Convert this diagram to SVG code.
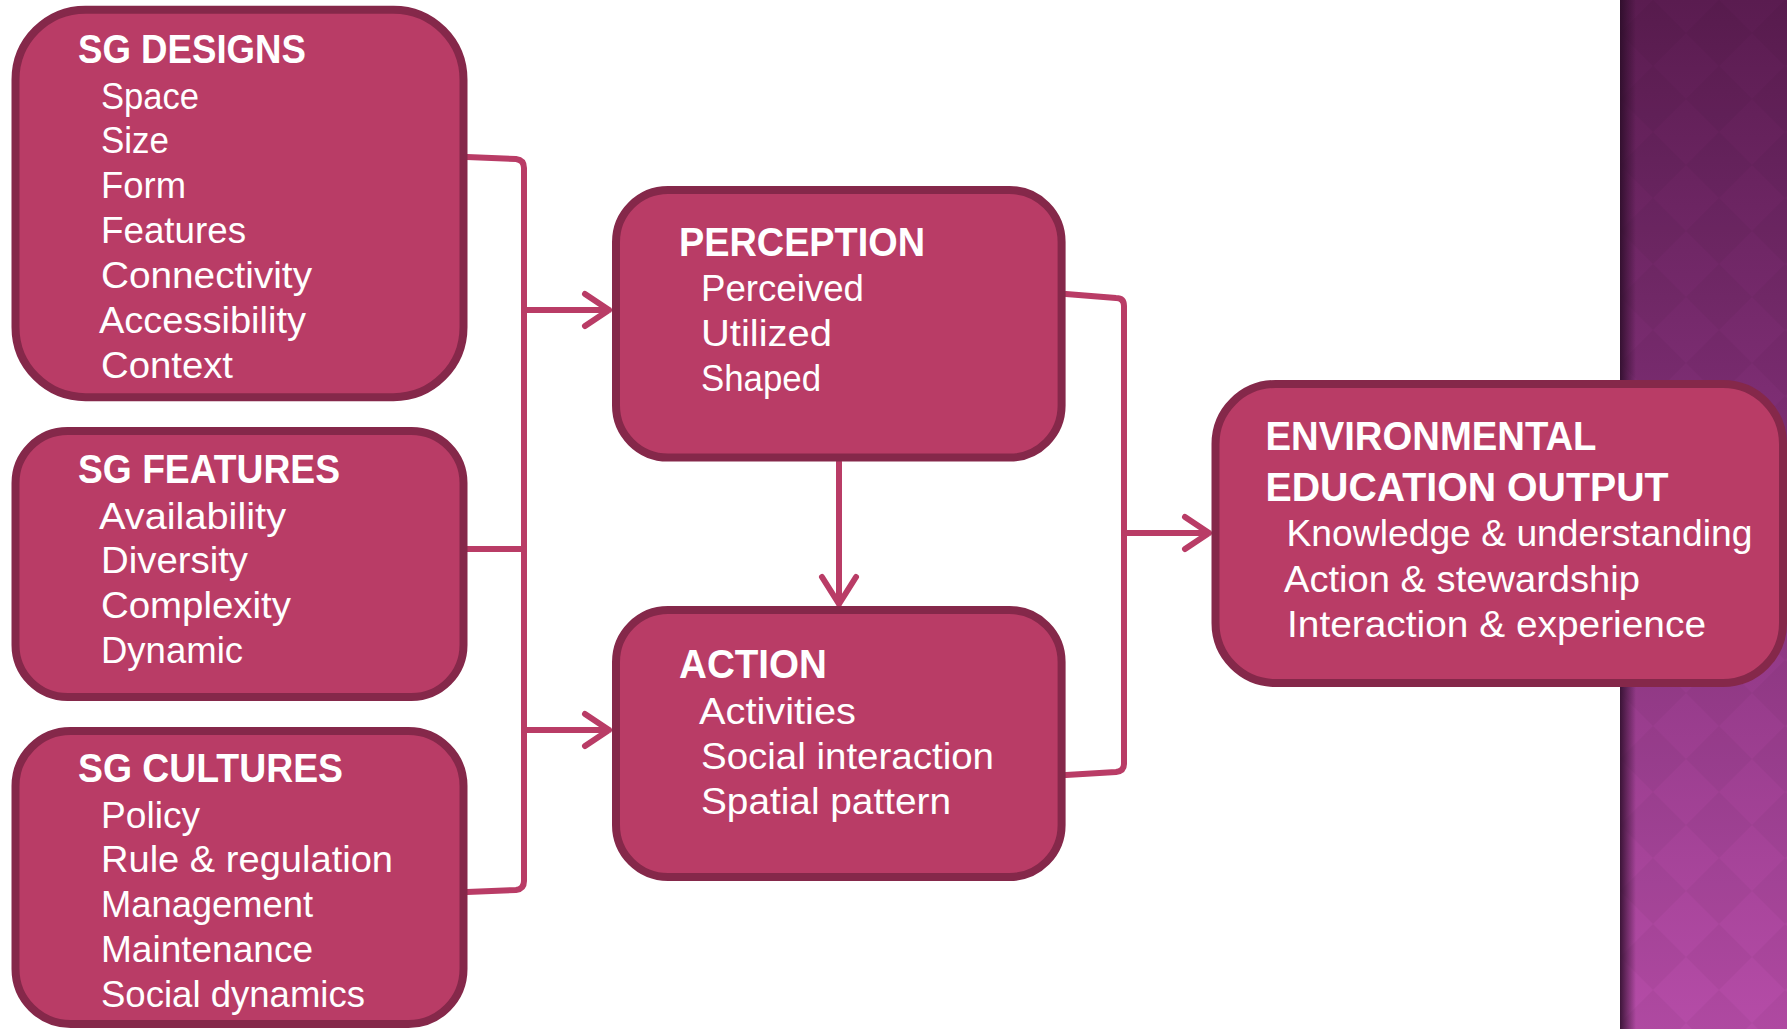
<svg xmlns="http://www.w3.org/2000/svg" width="1787" height="1029" viewBox="0 0 1787 1029">
<style>
.box{fill:#b93c66;stroke:#85284a;stroke-width:8}
.t{font-family:"Liberation Sans",Arial,sans-serif;font-size:37px;fill:#ffffff}
.h{font-family:"Liberation Sans",Arial,sans-serif;font-size:40.5px;font-weight:bold;fill:#ffffff}
.c{fill:none;stroke:#b93c66;stroke-width:6;stroke-linecap:round;stroke-linejoin:round}
</style>
<defs>
<linearGradient id="panel" x1="0" y1="0" x2="0" y2="1">
<stop offset="0" stop-color="#5a1c50"/>
<stop offset="0.4" stop-color="#7e2e74"/>
<stop offset="1" stop-color="#b54ca7"/>
</linearGradient>
<linearGradient id="shade" x1="0" y1="0" x2="1" y2="0">
<stop offset="0" stop-color="#2a0c27" stop-opacity="0.85"/>
<stop offset="1" stop-color="#2a0c27" stop-opacity="0"/>
</linearGradient>
<pattern id="dia" x="1620" y="0" width="66" height="66" patternUnits="userSpaceOnUse">
<polygon points="33,0 66,33 33,66 0,33" fill="#000000" fill-opacity="0.035"/>
</pattern>
</defs>
<rect x="0" y="0" width="1787" height="1029" fill="#ffffff"/>
<g id="background-panel">
<rect x="1620" y="0" width="167" height="1029" fill="url(#panel)"/>
<rect x="1620" y="0" width="167" height="1029" fill="url(#dia)"/>
<rect x="1620" y="0" width="16" height="1029" fill="url(#shade)"/>
</g>
<g id="connectors">
<path class="c" d="M467 157 L516 159 Q524 160 524 168 L524 881 Q524 889 516 890 L467 892"/>
<path class="c" d="M467 549 L524 549"/>
<path class="c" d="M524 310 L609 310 M585 294 L609 310 L585 326"/>
<path class="c" d="M524 730 L609 730 M585 714 L609 730 L585 746"/>
<path class="c" d="M839 462 L839 604 M822 577 L839 604 L856 577"/>
<path class="c" d="M1066 294 L1116 298 Q1124 298 1124 306 L1124 764 Q1124 771 1116 772 L1066 775"/>
<path class="c" d="M1124 533 L1209 533 M1185 517 L1209 533 L1185 549"/>
</g>
<g id="sg-designs">
<rect class="box" x="15.5" y="9.7" width="448" height="387.5" rx="70"/>
<text class="h" x="78" y="63" textLength="228" lengthAdjust="spacingAndGlyphs">SG DESIGNS</text>
<text class="t" x="101" y="108.5" textLength="98" lengthAdjust="spacingAndGlyphs">Space</text>
<text class="t" x="101" y="153.4" textLength="68" lengthAdjust="spacingAndGlyphs">Size</text>
<text class="t" x="101" y="198.3" textLength="85" lengthAdjust="spacingAndGlyphs">Form</text>
<text class="t" x="101" y="243.2" textLength="145" lengthAdjust="spacingAndGlyphs">Features</text>
<text class="t" x="101" y="288.1" textLength="211" lengthAdjust="spacingAndGlyphs">Connectivity</text>
<text class="t" x="99" y="333" textLength="207" lengthAdjust="spacingAndGlyphs">Accessibility</text>
<text class="t" x="101" y="377.9" textLength="132" lengthAdjust="spacingAndGlyphs">Context</text>
</g>
<g id="sg-features">
<rect class="box" x="15.5" y="431" width="448" height="266" rx="52"/>
<text class="h" x="78" y="483" textLength="262" lengthAdjust="spacingAndGlyphs">SG FEATURES</text>
<text class="t" x="99" y="528.5" textLength="187" lengthAdjust="spacingAndGlyphs">Availability</text>
<text class="t" x="101" y="573.3" textLength="147" lengthAdjust="spacingAndGlyphs">Diversity</text>
<text class="t" x="101" y="618" textLength="190" lengthAdjust="spacingAndGlyphs">Complexity</text>
<text class="t" x="101" y="662.5" textLength="142" lengthAdjust="spacingAndGlyphs">Dynamic</text>
</g>
<g id="sg-cultures">
<rect class="box" x="15.5" y="731" width="448" height="293" rx="55"/>
<text class="h" x="78" y="782" textLength="265" lengthAdjust="spacingAndGlyphs">SG CULTURES</text>
<text class="t" x="101" y="827.5" textLength="99" lengthAdjust="spacingAndGlyphs">Policy</text>
<text class="t" x="101" y="872.4" textLength="292" lengthAdjust="spacingAndGlyphs">Rule &amp; regulation</text>
<text class="t" x="101" y="917.3" textLength="212" lengthAdjust="spacingAndGlyphs">Management</text>
<text class="t" x="101" y="962.2" textLength="212" lengthAdjust="spacingAndGlyphs">Maintenance</text>
<text class="t" x="101" y="1007.1" textLength="264" lengthAdjust="spacingAndGlyphs">Social dynamics</text>
</g>
<g id="perception">
<rect class="box" x="616" y="190" width="445.6" height="267.6" rx="52"/>
<text class="h" x="679" y="255.5" textLength="246" lengthAdjust="spacingAndGlyphs">PERCEPTION</text>
<text class="t" x="701" y="301" textLength="163" lengthAdjust="spacingAndGlyphs">Perceived</text>
<text class="t" x="701" y="346" textLength="131" lengthAdjust="spacingAndGlyphs">Utilized</text>
<text class="t" x="701" y="391" textLength="120" lengthAdjust="spacingAndGlyphs">Shaped</text>
</g>
<g id="action">
<rect class="box" x="616" y="610" width="445.6" height="267" rx="52"/>
<text class="h" x="679" y="678" textLength="148" lengthAdjust="spacingAndGlyphs">ACTION</text>
<text class="t" x="699" y="724" textLength="157" lengthAdjust="spacingAndGlyphs">Activities</text>
<text class="t" x="701" y="769" textLength="293" lengthAdjust="spacingAndGlyphs">Social interaction</text>
<text class="t" x="701" y="814" textLength="250" lengthAdjust="spacingAndGlyphs">Spatial pattern</text>
</g>
<g id="environmental-education-output">
<rect class="box" x="1215.5" y="384" width="567.5" height="299" rx="60"/>
<text class="h" x="1265.5" y="450" textLength="331" lengthAdjust="spacingAndGlyphs">ENVIRONMENTAL</text>
<text class="h" x="1265.5" y="501" textLength="403" lengthAdjust="spacingAndGlyphs">EDUCATION OUTPUT</text>
<text class="t" x="1286.5" y="546" textLength="466" lengthAdjust="spacingAndGlyphs">Knowledge &amp; understanding</text>
<text class="t" x="1284" y="591.5" textLength="356" lengthAdjust="spacingAndGlyphs">Action &amp; stewardship</text>
<text class="t" x="1287" y="637" textLength="419" lengthAdjust="spacingAndGlyphs">Interaction &amp; experience</text>
</g>
</svg>
